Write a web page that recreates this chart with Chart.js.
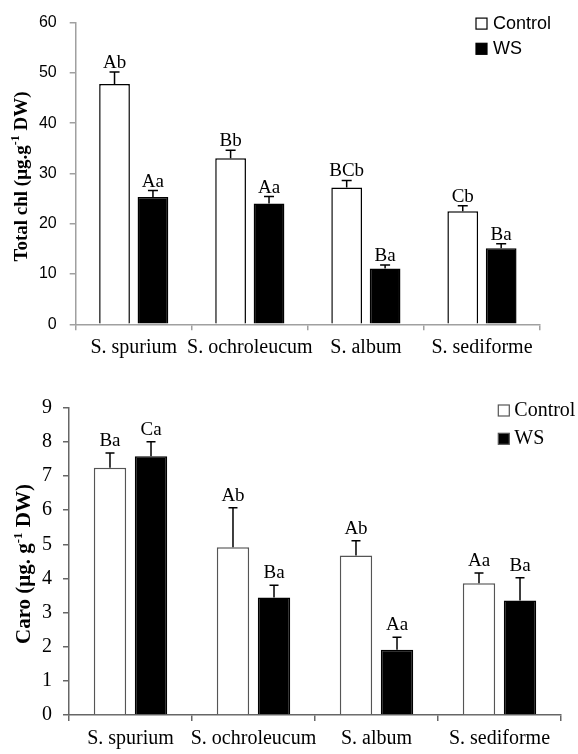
<!DOCTYPE html>
<html>
<head>
<meta charset="utf-8">
<script src="https://cdn.jsdelivr.net/npm/chart.js@4.4.0/dist/chart.umd.min.js"></script>
<style>
  html, body { margin: 0; padding: 0; background: #fff; }
  body { width: 578px; height: 754px; position: relative; overflow: hidden; }
  canvas { position: absolute; left: 0; }
  #chl { top: 0; }
  #caro { top: 380px; }
</style>
</head>
<body>
<canvas id="chl" width="578" height="365"></canvas>
<canvas id="caro" width="578" height="374"></canvas>
<script>
// species on the x axis
const categories = ["S. spurium", "S. ochroleucum", "S. album", "S. sediforme"];

// total chlorophyll (ug/g DW)
const chlControl = [47.8, 33.0, 27.2, 22.5];
const chlControlErr = [2.4, 1.6, 1.4, 1.1];
const chlWS = [25.3, 24.0, 11.1, 15.1];
const chlWSErr = [1.3, 1.4, 0.7, 0.9];
const chlControlLetters = ["Ab", "Bb", "BCb", "Cb"];
const chlWSLetters = ["Aa", "Aa", "Ba", "Ba"];
const chlTicks = [0, 60, 10]; // min, max, step

// carotenoids (ug/g DW)
const caroControl = [7.24, 4.91, 4.67, 3.86];
const caroControlErr = [0.43, 1.16, 0.43, 0.3];
const caroWS = [7.58, 3.44, 1.91, 3.35];
const caroWSErr = [0.42, 0.36, 0.37, 0.67];
const caroControlLetters = ["Ba", "Ab", "Ab", "Aa"];
const caroWSLetters = ["Ca", "Ba", "Aa", "Ba"];
const caroTicks = [0, 9, 1];

// error whiskers (upper only) + significance letters
const errorBars = {
  id: "errorBars",
  afterDatasetsDraw(chart, args, opts) {
    const ctx = chart.ctx;
    const yScale = chart.scales.y;
    chart.data.datasets.forEach((ds, i) => {
      const meta = chart.getDatasetMeta(i);
      meta.data.forEach((bar, j) => {
        const top = yScale.getPixelForValue(ds.data[j] + ds.errors[j]);
        ctx.save();
        ctx.strokeStyle = "#000";
        ctx.lineWidth = 1.5;
        ctx.beginPath();
        ctx.moveTo(bar.x, bar.y);
        ctx.lineTo(bar.x, top);
        ctx.moveTo(bar.x - opts.cap / 2, top);
        ctx.lineTo(bar.x + opts.cap / 2, top);
        ctx.stroke();
        ctx.fillStyle = "#000";
        ctx.font = opts.font;
        ctx.textAlign = "center";
        ctx.textBaseline = "alphabetic";
        ctx.fillText(ds.letters[j], bar.x, top - opts.gap);
        ctx.restore();
      });
    });
  },
};

// little square legend in the top right corner
const boxLegend = {
  id: "boxLegend",
  afterDraw(chart, args, opts) {
    const ctx = chart.ctx;
    chart.data.datasets.forEach((ds, i) => {
      const yc = opts.y + i * opts.rowGap;
      ctx.save();
      ctx.fillStyle = ds.backgroundColor;
      ctx.fillRect(opts.x, yc - opts.box / 2, opts.box, opts.box);
      ctx.strokeStyle = opts.boxBorder;
      ctx.lineWidth = 1.2;
      ctx.strokeRect(opts.x, yc - opts.box / 2, opts.box, opts.box);
      ctx.fillStyle = "#000";
      ctx.font = opts.font;
      ctx.textAlign = "left";
      ctx.textBaseline = "middle";
      ctx.fillText(ds.label, opts.x + opts.box + opts.textGap, yc);
      ctx.restore();
    });
  },
};

// rotated y title with a superscript part
const yTitle = {
  id: "yTitle",
  afterDraw(chart, args, opts) {
    const ctx = chart.ctx;
    const supFont = "bold " + opts.supSize + "px 'Liberation Serif'";
    const mainFont = "bold " + opts.size + "px 'Liberation Serif'";
    let total = 0;
    opts.parts.forEach((p) => {
      ctx.font = p.sup ? supFont : mainFont;
      p.w = ctx.measureText(p.t).width;
      total += p.w;
    });
    ctx.save();
    ctx.translate(opts.x, opts.y);
    ctx.rotate(-Math.PI / 2);
    ctx.fillStyle = "#000";
    ctx.textBaseline = "alphabetic";
    ctx.textAlign = "left";
    let x = -total / 2;
    opts.parts.forEach((p) => {
      ctx.font = p.sup ? supFont : mainFont;
      ctx.fillText(p.t, x, p.sup ? opts.size * 0.35 - opts.size * 0.4 : opts.size * 0.35);
      x += p.w;
    });
    ctx.restore();
  },
};

const chlAxis = "#a0a0a0";
new Chart(document.getElementById("chl"), {
  type: "bar",
  data: {
    labels: categories,
    datasets: [
      {
        label: "Control",
        data: chlControl,
        errors: chlControlErr,
        letters: chlControlLetters,
        backgroundColor: "#ffffff",
        borderColor: "#000000",
        borderWidth: 1.5,
        categoryPercentage: 0.662,
        barPercentage: 0.8,
      },
      {
        label: "WS",
        data: chlWS,
        errors: chlWSErr,
        letters: chlWSLetters,
        backgroundColor: "#000000",
        borderColor: "#000000",
        borderWidth: 1.5,
        categoryPercentage: 0.662,
        barPercentage: 0.8,
      },
    ],
  },
  options: {
    responsive: false,
    animation: false,
    layout: { padding: { left: 0, right: 38, top: 17.7, bottom: 0 } },
    scales: {
      x: {
        grid: { drawOnChartArea: false, tickLength: 6, color: chlAxis, lineWidth: 1.5 },
        border: { color: chlAxis, width: 1.5 },
        ticks: {
          color: "#000",
          font: { family: "Liberation Serif", size: 20 },
          padding: 5,
          maxRotation: 0,
          autoSkip: false,
        },
        afterFit(scale) {
          scale.height = 40.7;
        },
      },
      y: {
        min: chlTicks[0],
        max: chlTicks[1],
        grid: { drawOnChartArea: false, tickLength: 6, color: chlAxis, lineWidth: 1.5 },
        border: { color: chlAxis, width: 1.5 },
        ticks: {
          stepSize: chlTicks[2],
          color: "#000",
          font: { family: "Liberation Sans", size: 16 },
          padding: 13,
        },
        afterFit(scale) {
          scale.width = 75.7;
        },
      },
    },
    plugins: {
      legend: { display: false },
      tooltip: { enabled: false },
      errorBars: { cap: 10, gap: 4, font: "19px 'Liberation Serif'" },
      boxLegend: {
        x: 476, y: 23.6, rowGap: 25.2, box: 11, textGap: 6,
        boxBorder: "#000", font: "18px 'Liberation Sans'",
      },
      yTitle: {
        x: 20, y: 176.5, size: 19, supSize: 12,
        parts: [{ t: "Total chl (\u03bcg.g" }, { t: "-1", sup: true }, { t: " DW)" }],
      },
    },
  },
  plugins: [errorBars, boxLegend, yTitle],
});

const caroAxis = "#666666";
new Chart(document.getElementById("caro"), {
  type: "bar",
  data: {
    labels: categories,
    datasets: [
      {
        label: "Control",
        data: caroControl,
        errors: caroControlErr,
        letters: caroControlLetters,
        backgroundColor: "#ffffff",
        borderColor: "#555555",
        borderWidth: 1.5,
        categoryPercentage: 0.667,
        barPercentage: 0.79,
      },
      {
        label: "WS",
        data: caroWS,
        errors: caroWSErr,
        letters: caroWSLetters,
        backgroundColor: "#000000",
        borderColor: "#000000",
        borderWidth: 1.5,
        categoryPercentage: 0.667,
        barPercentage: 0.79,
      },
    ],
  },
  options: {
    responsive: false,
    animation: false,
    layout: { padding: { left: 0, right: 17, top: 27.7, bottom: 0 } },
    scales: {
      x: {
        grid: { drawOnChartArea: false, tickLength: 6, color: caroAxis, lineWidth: 1.5 },
        border: { color: caroAxis, width: 1.5 },
        ticks: {
          color: "#000",
          font: { family: "Liberation Serif", size: 20 },
          padding: 6,
          maxRotation: 0,
          autoSkip: false,
        },
        afterFit(scale) {
          scale.height = 39;
        },
      },
      y: {
        min: caroTicks[0],
        max: caroTicks[1],
        grid: { drawOnChartArea: false, tickLength: 6, color: caroAxis, lineWidth: 1.5 },
        border: { color: caroAxis, width: 1.5 },
        ticks: {
          stepSize: caroTicks[2],
          color: "#000",
          font: { family: "Liberation Serif", size: 20 },
          padding: 11,
        },
        afterFit(scale) {
          scale.width = 69;
        },
      },
    },
    plugins: {
      legend: { display: false },
      tooltip: { enabled: false },
      errorBars: { cap: 9, gap: 7, font: "19px 'Liberation Serif'" },
      boxLegend: {
        x: 498.3, y: 30.5, rowGap: 28.3, box: 11, textGap: 5,
        boxBorder: "#555", font: "20px 'Liberation Serif'",
      },
      yTitle: {
        x: 22.7, y: 184, size: 21, supSize: 13,
        parts: [{ t: "Caro (\u03bcg. g" }, { t: "-1", sup: true }, { t: " DW)" }],
      },
    },
  },
  plugins: [errorBars, boxLegend, yTitle],
});
</script>
</body>
</html>
